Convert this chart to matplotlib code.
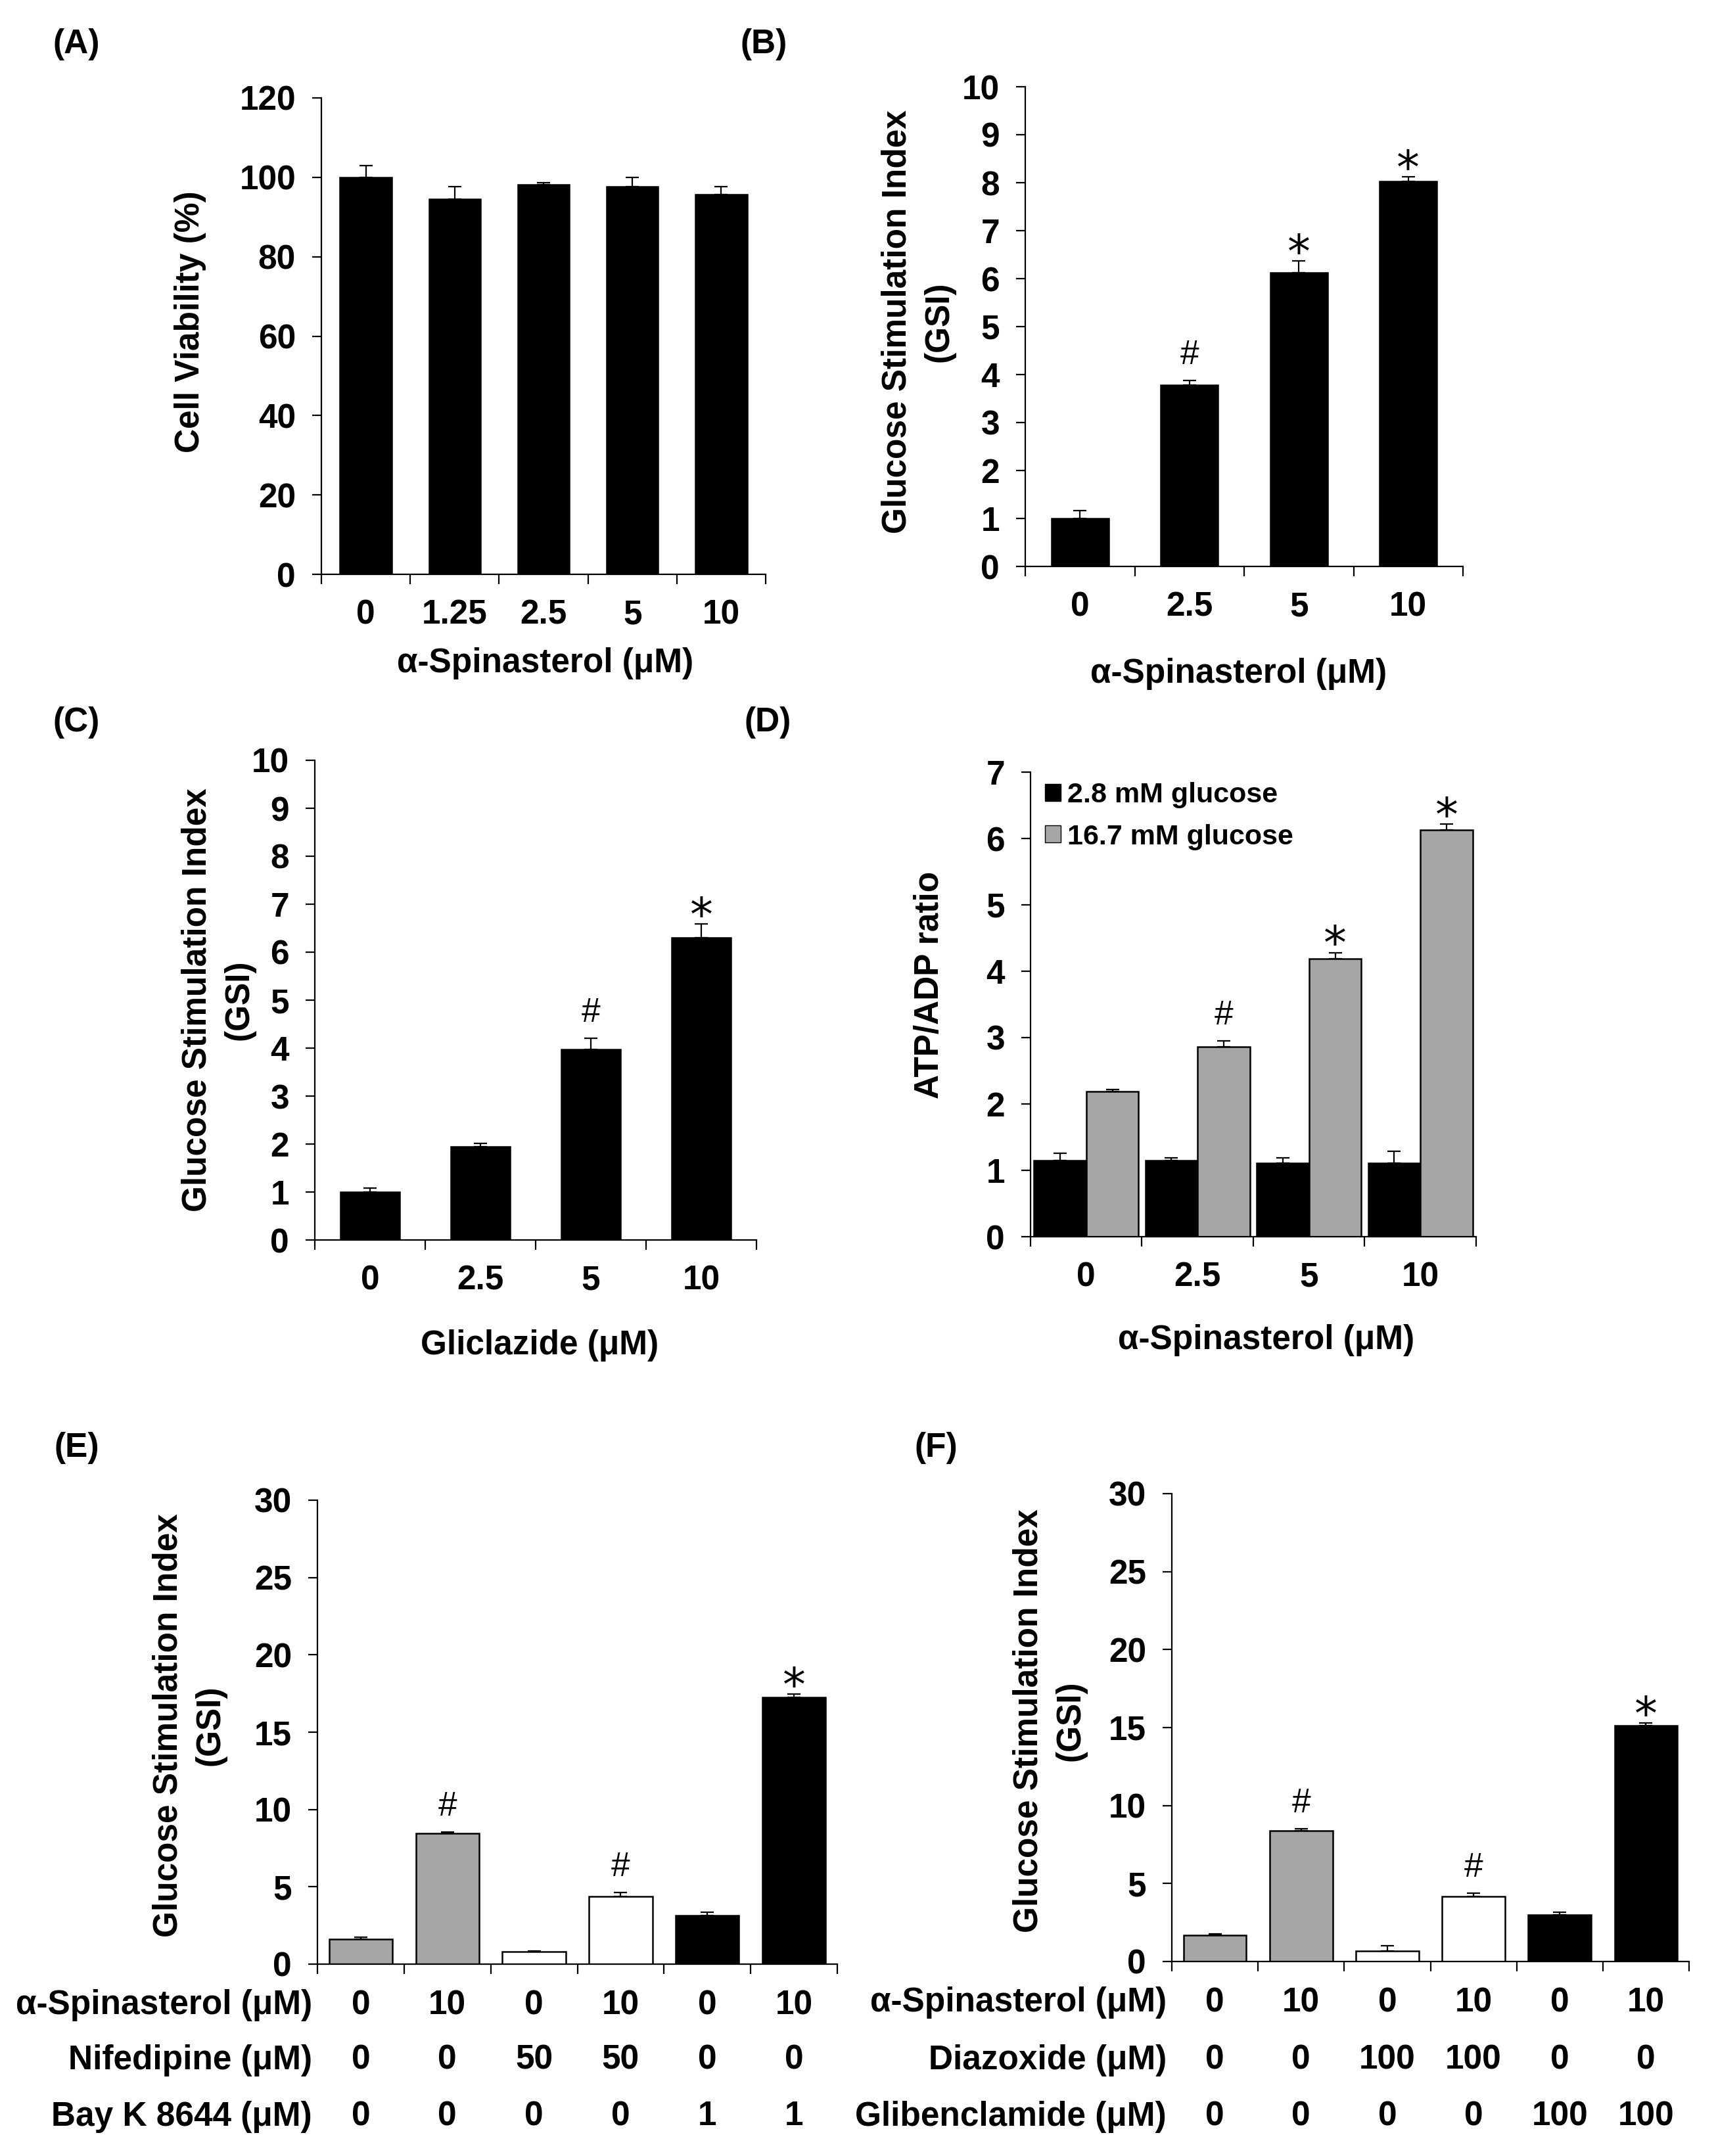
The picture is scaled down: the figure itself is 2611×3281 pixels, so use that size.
import numpy as np
import matplotlib
matplotlib.use('Agg')
import matplotlib.pyplot as plt
import matplotlib.transforms as mtransforms
from matplotlib.patches import Patch

# ---- data ----
a_labels = ['0', '1.25', '2.5', '5', '10']
a_viability = [100.0, 94.5, 98.2, 97.6, 95.6]
a_err = [3.0, 3.1, 0.4, 2.3, 2.0]

b_labels = ['0', '2.5', '5', '10']
b_gsi = [1.0, 3.78, 6.13, 8.03]
b_err = [0.16, 0.10, 0.24, 0.09]
b_marks = ['', '#', '*', '*']

c_labels = ['0', '2.5', '5', '10']
c_gsi = [1.0, 1.95, 3.97, 6.30]
c_err = [0.08, 0.07, 0.23, 0.29]
c_marks = ['', '', '#', '*']

d_labels = ['0', '2.5', '5', '10']
d_low = [1.15, 1.15, 1.11, 1.11]
d_low_err = [0.11, 0.04, 0.08, 0.18]
d_high = [2.19, 2.86, 4.19, 6.13]
d_high_err = [0.03, 0.09, 0.09, 0.09]
d_marks = ['', '#', '*', '*']

e_gsi = [1.63, 8.44, 0.80, 4.39, 3.16, 17.27]
e_err = [0.10, 0.08, 0.06, 0.25, 0.20, 0.18]
e_marks = ['', '#', '', '#', '', '*']
e_rows = ['α-Spinasterol (μM)', 'Nifedipine (μM)', 'Bay K 8644 (μM)']
e_row_vals = [['0', '10', '0', '10', '0', '10'],
              ['0', '0', '50', '50', '0', '0'],
              ['0', '0', '0', '0', '1', '1']]

f_gsi = [1.67, 8.39, 0.67, 4.19, 2.98, 15.14]
f_err = [0.10, 0.12, 0.33, 0.20, 0.20, 0.15]
f_marks = ['', '#', '', '#', '', '*']
f_rows = ['α-Spinasterol (μM)', 'Diazoxide (μM)', 'Glibenclamide (μM)']
f_row_vals = [['0', '10', '0', '10', '0', '10'],
              ['0', '0', '100', '100', '0', '0'],
              ['0', '0', '0', '0', '100', '100']]

ef_colors = ['#a6a6a6', '#a6a6a6', 'white', 'white', 'black', 'black']

# ---- style ----
W, H = 2611, 3281
DPI = 100
FS = 37
plt.rcParams['font.family'] = ['Liberation Sans', 'DejaVu Sans']
plt.rcParams['font.weight'] = 'bold'
plt.rcParams['font.size'] = FS

fig = plt.figure(figsize=(W / DPI, H / DPI), dpi=DPI)


def rect(x0, y0, x1, y1):
    return [x0 / W, 1 - y1 / H, (x1 - x0) / W, (y1 - y0) / H]


def ftext(x, y, s, **kw):
    fig.text(x / W, 1 - y / H, s, **kw)


def setup(ax, n, ymax, ystep):
    for s in ['top', 'right']:
        ax.spines[s].set_visible(False)
    for s in ['left', 'bottom']:
        ax.spines[s].set_linewidth(1.6)
    ax.set_xlim(-0.5, n - 0.5)
    ax.set_ylim(0, ymax)
    ax.set_yticks(np.arange(0, ymax + ystep / 2, ystep))
    ax.tick_params(axis='y', length=10, width=1.6, pad=18, labelsize=FS)
    ax.set_xticks(range(n))
    ax.tick_params(axis='x', which='major', length=0, pad=27, labelsize=FS)
    ax.set_xticks(np.arange(-0.5, n), minor=True)
    ax.tick_params(axis='x', which='minor', length=11, width=1.6)


def mark(ax, x, top, sym):
    if sym == '*':
        ax.annotate('*', (x, top), xytext=(0, -7), textcoords='offset points',
                    ha='center', va='baseline', fontsize=50,
                    fontweight='normal', family='DejaVu Sans')
    elif sym == '#':
        ax.annotate('#', (x, top), xytext=(0, 18), textcoords='offset points',
                    ha='center', va='baseline', fontsize=FS, fontweight='normal')


def err(ax, x, y, e):
    ax.errorbar(x, y, yerr=[np.zeros(len(e)), e], fmt='none', ecolor='black',
                elinewidth=1.6, capsize=7, capthick=1.6, zorder=1)


def simple_bars(ax, vals, errs, width, colors='black'):
    x = np.arange(len(vals))
    err(ax, x, vals, errs)
    ax.bar(x, vals, width, color=colors, edgecolor='black', linewidth=1.8, zorder=2)
    return x


# ---- (A) ----
ax = fig.add_axes(rect(489, 149, 1165, 874))
setup(ax, 5, 120, 20)
simple_bars(ax, a_viability, a_err, 0.58)
ax.set_xticklabels(a_labels)
ftext(290, 490, 'Cell Viability (%)', rotation=90, ha='center', va='center')
ftext(830, 1010, 'α-Spinasterol (μM)', ha='center', va='center')
ftext(116, 67, '(A)', ha='center', va='center')

# ---- (B) ----
ax = fig.add_axes(rect(1560, 132, 2226, 862))
setup(ax, 4, 10, 1)
x = simple_bars(ax, b_gsi, b_err, 0.52)
ax.set_xticklabels(b_labels)
for xi, v, e, m in zip(x, b_gsi, b_err, b_marks):
    mark(ax, xi, v + e, m)
ftext(1397, 490, 'Glucose Stimulation Index\n(GSI)', rotation=90,
      ha='center', va='center', linespacing=1.4)
ftext(1885, 1025, 'α-Spinasterol (μM)', ha='center', va='center')
ftext(1162, 67, '(B)', ha='center', va='center')

# ---- (C) ----
ax = fig.add_axes(rect(479, 1157, 1151, 1887))
setup(ax, 4, 10, 1)
x = simple_bars(ax, c_gsi, c_err, 0.54)
ax.set_xticklabels(c_labels)
for xi, v, e, m in zip(x, c_gsi, c_err, c_marks):
    mark(ax, xi, v + e, m)
ftext(332, 1522, 'Glucose Stimulation Index\n(GSI)', rotation=90,
      ha='center', va='center', linespacing=1.4)
ftext(821, 2048, 'Gliclazide (μM)', ha='center', va='center')
ftext(116, 1100, '(C)', ha='center', va='center')

# ---- (D) ----
ax = fig.add_axes(rect(1568, 1175, 2246, 1882))
setup(ax, 4, 7, 1)
x = np.arange(len(d_low))
bw = 0.47
err(ax, x - bw / 2, d_low, d_low_err)
err(ax, x + bw / 2, d_high, d_high_err)
ax.bar(x - bw / 2, d_low, bw, color='black', edgecolor='black', linewidth=1.8,
       zorder=2)
ax.bar(x + bw / 2, d_high, bw, color='#a6a6a6', edgecolor='black', linewidth=1.8,
       zorder=2)
ax.set_xticklabels(d_labels)
for xi, v, e, m in zip(x + bw / 2, d_high, d_high_err, d_marks):
    mark(ax, xi, v + e, m)
handles = [Patch(facecolor='black', edgecolor='black'),
           Patch(facecolor='#a6a6a6', edgecolor='black')]
ax.legend(handles, ['2.8 mM glucose', '16.7 mM glucose'], loc='upper left',
          bbox_to_anchor=(1590 / W, 1 - 1190 / H), bbox_transform=fig.transFigure,
          frameon=False, fontsize=31, handlelength=0.55, handleheight=0.55,
          handletextpad=0.25, labelspacing=0.55, borderaxespad=0, borderpad=0)
ftext(1415, 1499, 'ATP/ADP ratio', rotation=90, ha='center', va='center')
ftext(1927, 2040, 'α-Spinasterol (μM)', ha='center', va='center')
ftext(1168, 1100, '(D)', ha='center', va='center')


# ---- (E) and (F) ----
def bottom_panel(box, vals, errs, marks, rows, row_vals, row_y, ylab_x, letter_xy):
    ax = fig.add_axes(rect(*box))
    setup(ax, 6, 30, 5)
    x = simple_bars(ax, vals, errs, 0.73, colors=ef_colors)
    ax.set_xticklabels([])
    for xi, v, e, m in zip(x, vals, errs, marks):
        mark(ax, xi, v + e, m)
    trans = mtransforms.blended_transform_factory(ax.transData, fig.transFigure)
    for name, vs, yy in zip(rows, row_vals, row_y):
        ftext(box[0] - 8, yy, name, ha='right', va='center')
        for xi, s in zip(x, vs):
            ax.text(xi, 1 - yy / H, s, transform=trans, ha='center', va='center',
                    clip_on=False)
    ftext(ylab_x, (box[1] + box[3]) / 2 - 10, 'Glucose Stimulation Index\n(GSI)',
          rotation=90, ha='center', va='center', linespacing=1.4)
    ftext(letter_xy[0], letter_xy[1], letter_xy[2], ha='center', va='center')


bottom_panel((483, 2283, 1274, 2989), e_gsi, e_err, e_marks, e_rows, e_row_vals,
             [3052, 3135, 3221], 288, (117, 2204, '(E)'))
bottom_panel((1783, 2273, 2570, 2985), f_gsi, f_err, f_marks, f_rows, f_row_vals,
             [3048, 3135, 3221], 1597, (1424, 2204, '(F)'))

fig.savefig('out.png', dpi=DPI)
